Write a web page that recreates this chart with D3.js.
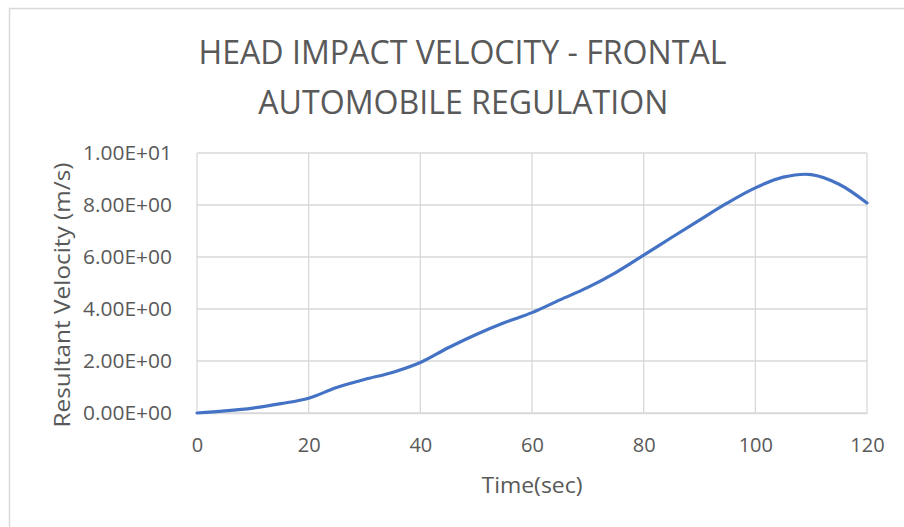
<!DOCTYPE html>
<html>
<head>
<meta charset="utf-8">
<script src="https://cdn.jsdelivr.net/npm/d3@7"></script>
<style>
  html, body { margin: 0; padding: 0; background: #fff; }
  svg { display: block; }
  text { font-family: "Open Sans", "Liberation Sans", sans-serif; fill: #595959; }
</style>
</head>
<body>
<svg id="chart" width="904" height="527"></svg>
<script>
// Head impact velocity over time
const times = [0, 5, 10, 15, 20, 25, 30, 35, 40, 45, 50, 55, 60, 65, 70, 75, 80, 85, 90, 95, 100, 105, 110, 115, 120];
const velocity = [0, 0.08, 0.19, 0.36, 0.57, 0.98, 1.29, 1.56, 1.94, 2.51, 3.02, 3.47, 3.86, 4.35, 4.83, 5.40, 6.07, 6.75, 7.42, 8.08, 8.66, 9.07, 9.17, 8.80, 8.08];
const xTicks = [0, 20, 40, 60, 80, 100, 120];
const yTicks = [0, 2, 4, 6, 8, 10];
const yTickLabels = ["0.00E+00", "2.00E+00", "4.00E+00", "6.00E+00", "8.00E+00", "1.00E+01"];
const titleLines = ["HEAD IMPACT VELOCITY - FRONTAL", "AUTOMOBILE REGULATION"];

const svg = d3.select("#chart");

// chart frame
svg.append("rect")
  .attr("x", 9.5).attr("y", 8.5)
  .attr("width", 1000).attr("height", 1000)
  .attr("fill", "none").attr("stroke", "#d9d9d9").attr("stroke-width", 1.5);

const plot = { left: 197, right: 867, top: 153, bottom: 413 };

const x = d3.scaleLinear().domain([0, 120]).range([plot.left, plot.right]);
const y = d3.scaleLinear().domain([0, 10]).range([plot.bottom, plot.top]);

// gridlines
const grid = svg.append("g").attr("stroke", "#d9d9d9").attr("stroke-width", 1.3);
grid.selectAll("line.h").data(yTicks).join("line")
  .attr("x1", plot.left).attr("x2", plot.right)
  .attr("y1", d => y(d)).attr("y2", d => y(d));
grid.selectAll("line.v").data(xTicks).join("line")
  .attr("y1", plot.top).attr("y2", plot.bottom)
  .attr("x1", d => x(d)).attr("x2", d => x(d));

// axes (labels only, no tick marks)
const xAxis = svg.append("g")
  .attr("transform", `translate(0,${plot.bottom})`)
  .call(d3.axisBottom(x).tickValues(xTicks).tickSize(0).tickPadding(0));
xAxis.select(".domain").attr("stroke", "#d9d9d9").attr("stroke-width", 1.3);
xAxis.selectAll("text")
  .attr("font-size", 20).attr("fill", "#595959")
  .attr("font-family", "Open Sans, sans-serif")
  .attr("y", 39).attr("dy", null);

const yAxis = svg.append("g")
  .attr("transform", `translate(${plot.left},0)`)
  .call(d3.axisLeft(y).tickValues(yTicks).tickSize(0).tickPadding(25)
    .tickFormat((d, i) => yTickLabels[i]));
yAxis.select(".domain").remove();
yAxis.selectAll("text").attr("font-size", 19.5).attr("fill", "#595959")
  .attr("font-family", "Open Sans, sans-serif")
  .attr("textLength", 89).attr("lengthAdjust", "spacingAndGlyphs");

// data line
const pts = times.map((t, i) => [t, velocity[i]]);
const line = d3.line()
  .x(d => x(d[0])).y(d => y(d[1]))
  .curve(d3.curveCatmullRom.alpha(0.5));
svg.append("path")
  .datum(pts)
  .attr("d", line)
  .attr("fill", "none")
  .attr("stroke", "#4472c4")
  .attr("stroke-width", 3.2)
  .attr("stroke-linecap", "round");

// title
const titleWidths = [528, 410];
const titleCenters = [462.5, 463.3];
svg.append("g").selectAll("text").data(titleLines).join("text")
  .attr("x", (d, i) => titleCenters[i])
  .attr("y", (d, i) => 63.5 + i * 50)
  .attr("text-anchor", "middle")
  .attr("font-size", 32.5)
  .attr("textLength", (d, i) => titleWidths[i])
  .attr("lengthAdjust", "spacingAndGlyphs")
  .text(d => d);

// axis titles
svg.append("text")
  .attr("x", 532).attr("y", 493)
  .attr("text-anchor", "middle")
  .attr("font-size", 22)
  .attr("textLength", 101)
  .attr("lengthAdjust", "spacingAndGlyphs")
  .text("Time(sec)");

svg.append("text")
  .attr("transform", "translate(70,295) rotate(-90)")
  .attr("text-anchor", "middle")
  .attr("font-size", 21)
  .attr("textLength", 265)
  .attr("lengthAdjust", "spacingAndGlyphs")
  .text("Resultant Velocity (m/s)");
</script>
</body>
</html>
